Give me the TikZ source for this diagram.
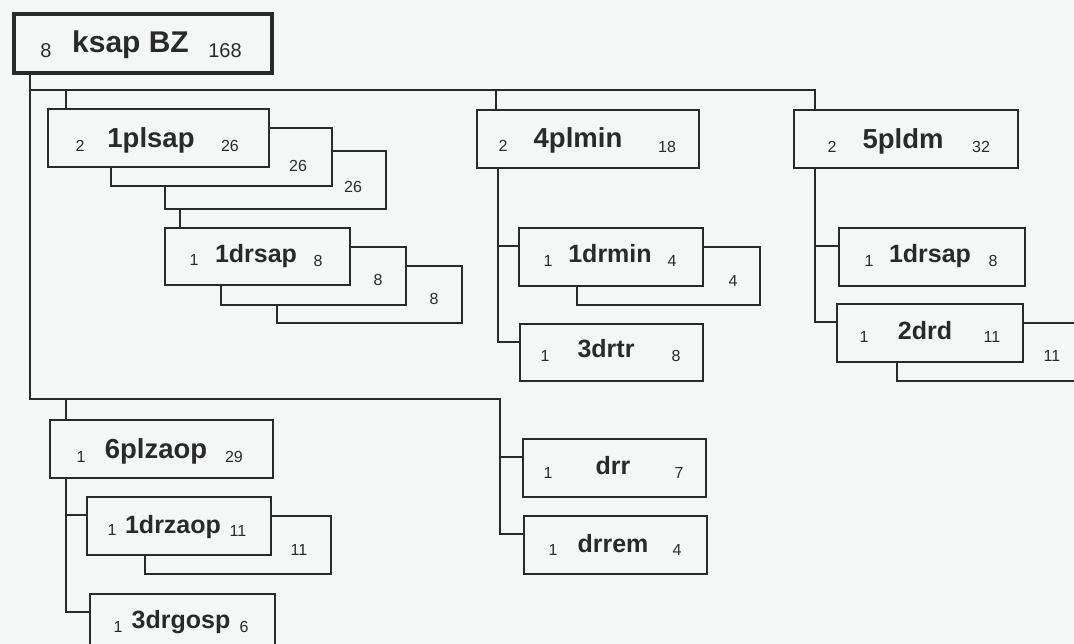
\documentclass[tikz,border=0pt]{standalone}
\usepackage{fontspec}
\setmainfont{Liberation Sans}
\definecolor{ink}{HTML}{2A2A2A}
\definecolor{paper}{HTML}{F5F7F6}
\begin{document}
\begin{tikzpicture}[x=1pt,y=-1pt,
  box/.style={draw=ink,line width=2pt,fill=paper,inner sep=0pt,anchor=north west,minimum height=58},
  conn/.style={draw=ink,line width=1.4pt},
  num/.style={anchor=base,inner sep=0pt,text=ink,font=\fontsize{16}{18}\selectfont},
  bignum/.style={anchor=base,inner sep=0pt,text=ink,font=\fontsize{20}{22}\selectfont},
  ttop/.style={anchor=base,inner sep=0pt,text=ink,font=\fontsize{30}{32}\selectfont\bfseries},
  tA/.style={anchor=base,inner sep=0pt,text=ink,font=\fontsize{27.5}{30}\selectfont\bfseries},
  tB/.style={anchor=base,inner sep=0pt,text=ink,font=\fontsize{25}{28}\selectfont\bfseries}]
\useasboundingbox (0,0) rectangle (1074,644);
\fill[paper] (0,0) rectangle (1074,644);
\clip (0,0) rectangle (1074,644);

% ---- boxes (back copies first) ----
\node[box,line width=4pt,minimum width=258,minimum height=59] (ksap) at (12,12) {};

\node[box,minimum width=221] (p1c) at (164,150) {};
\node[box,minimum width=221] (p1b) at (110,127) {};
\node[box,minimum width=221] (p1) at (47,108) {};

\node[box,minimum width=185,minimum height=57] (d1c) at (276,265) {};
\node[box,minimum width=185] (d1b) at (220,246) {};
\node[box,minimum width=185,minimum height=57] (d1) at (164,227) {};

\node[box,minimum width=222] (p4) at (476,109) {};
\node[box,minimum width=183] (d4b) at (576,246) {};
\node[box,minimum width=184] (d4) at (518,227) {};
\node[box,minimum width=183,minimum height=57] (d43) at (519,323) {};

\node[box,minimum width=224] (p5) at (793,109) {};
\node[box,minimum width=186] (d5) at (838,227) {};
\node[box,minimum width=186] (d52b) at (896,322) {};
\node[box,minimum width=186] (d52) at (836,303) {};

\node[box,minimum width=223] (p6) at (49,419) {};
\node[box,minimum width=186] (d6b) at (144,515) {};
\node[box,minimum width=184] (d6) at (86,496) {};
\node[box,minimum width=185] (d63) at (89,593) {};

\node[box,minimum width=183] (drr) at (522,438) {};
\node[box,minimum width=183] (drrem) at (523,515) {};

% ---- connectors ----
\coordinate (bus0) at (30,90);
\coordinate (bus1) at (66,90);
\coordinate (bus4) at (496,90);
\coordinate (bus5) at (815,90);
\coordinate (low0) at (30,399);
\coordinate (low6) at (66,399);
\coordinate (lowR) at (500,399);
\coordinate (j1) at (180,0);
\coordinate (j4) at (498,0);

\draw[conn] (ksap.south west -| bus0) -- (low0) -- (lowR) |- ([yshift=-19pt]drrem.north west);
\draw[conn] ([yshift=-19pt]drr.north west) -- ([yshift=-19pt]drr.north west -| lowR);
\draw[conn] (bus0) -- (bus5) -- (bus5 |- p5.north);
\draw[conn] (bus1) -- (bus1 |- p1.north);
\draw[conn] (bus4) -- (bus4 |- p4.north);
\draw[conn] (low6) -- (low6 |- p6.north);
\draw[conn] (p1c.south -| j1) -- (d1.north -| j1);
\draw[conn] (p4.south -| j4) |- ([yshift=-19pt]d43.north west);
\draw[conn] ([yshift=-19pt]d4.north west) -- ([yshift=-19pt]d4.north west -| j4);
\draw[conn] (p5.south -| bus5) |- ([yshift=-19pt]d52.north west);
\draw[conn] ([yshift=-19pt]d5.north west) -- ([yshift=-19pt]d5.north west -| bus5);
\draw[conn] (p6.south -| low6) |- ([yshift=-19pt]d63.north west);
\draw[conn] ([yshift=-19pt]d6.north west) -- ([yshift=-19pt]d6.north west -| low6);

% ---- texts ----
\node[bignum] (ksapL) at (46,58) {8};
\node[ttop] (ksapT) at (130.5,53) {ksap BZ};
\node[bignum] (ksapR) at (225,58) {168};

\node[num] (p1L) at (80,152) {2};
\node[tA] (p1T) at (151,148) {1plsap};
\node[num] (p1R) at (230,152) {26};
\node[num] (p1bR) at (298,172) {26};
\node[num] (p1cR) at (353,193) {26};

\node[num] (d1L) at (194,266) {1};
\node[tB] (d1T) at (256,263) {1drsap};
\node[num] (d1R) at (318,267) {8};
\node[num] (d1bR) at (378,286) {8};
\node[num] (d1cR) at (434,305) {8};

\node[num] (p4L) at (503,152) {2};
\node[tA] (p4T) at (578,148) {4plmin};
\node[num] (p4R) at (667,153) {18};

\node[num] (d4L) at (548,267) {1};
\node[tB] (d4T) at (610,263) {1drmin};
\node[num] (d4R) at (672,267) {4};
\node[num] (d4bR) at (733,287) {4};

\node[num] (d43L) at (545,362) {1};
\node[tB] (d43T) at (606,358) {3drtr};
\node[num] (d43R) at (676,362) {8};

\node[num] (p5L) at (832,153) {2};
\node[tA] (p5T) at (903,149) {5pldm};
\node[num] (p5R) at (981,153) {32};

\node[num] (d5L) at (869,267) {1};
\node[tB] (d5T) at (930,263) {1drsap};
\node[num] (d5R) at (993,267) {8};

\node[num] (d52L) at (864,343) {1};
\node[tB] (d52T) at (925,340) {2drd};
\node[num] (d52R) at (992,343) {11};
\node[num] (d52bR) at (1052,362) {11};

\node[num] (p6L) at (81,462) {1};
\node[tA] (p6T) at (156,458) {6plzaop};
\node[num] (p6R) at (234,462) {29};

\node[num] (d6L) at (112,535) {1};
\node[tB] (d6T) at (173,533) {1drzaop};
\node[num] (d6R) at (238,536) {11};
\node[num] (d6bR) at (299,555) {11};

\node[num] (d63L) at (118,632) {1};
\node[tB] (d63T) at (181,628) {3drgosp};
\node[num] (d63R) at (244,632) {6};

\node[num] (drrL) at (548,478) {1};
\node[tB] (drrT) at (613,474) {drr};
\node[num] (drrR) at (679,478) {7};

\node[num] (drremL) at (553,555) {1};
\node[tB] (drremT) at (613,552) {drrem};
\node[num] (drremR) at (677,555) {4};
\end{tikzpicture}
\end{document}
